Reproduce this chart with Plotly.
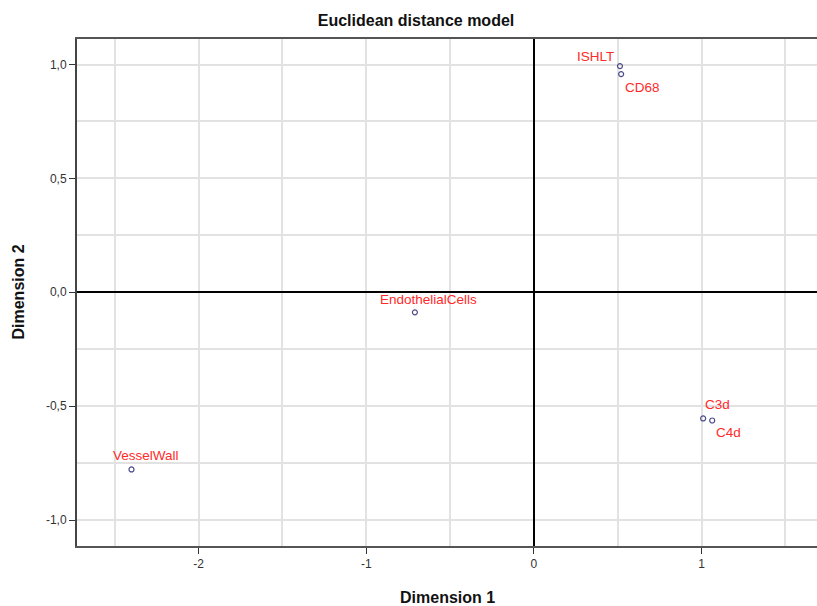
import plotly.graph_objects as go

labels = ["ISHLT", "CD68", "EndothelialCells", "VesselWall", "C3d", "C4d"]
dim1 = [0.513, 0.520, -0.710, -2.400, 1.009, 1.063]
dim2 = [0.993, 0.958, -0.088, -0.778, -0.554, -0.563]

x_tickvals = [-2, -1, 0, 1]
x_ticktext = ["-2", "-1", "0", "1"]
y_tickvals = [1.0, 0.5, 0.0, -0.5, -1.0]
y_ticktext = ["1,0", "0,5", "0,0", "-0,5", "-1,0"]

# label placement (anchor, xshift, yshift) per point
label_place = {
    "ISHLT": ("right", -4, 10),
    "CD68": ("left", 2, -13),
    "EndothelialCells": ("center", 14, 13),
    "VesselWall": ("center", 14, 14),
    "C3d": ("left", 0, 14),
    "C4d": ("left", 2, -12),
}

FONT = "Liberation Sans, Arial, sans-serif"

fig = go.Figure()
fig.add_trace(go.Scatter(
    x=dim1, y=dim2, mode="markers",
    marker=dict(symbol="circle-open", size=5, color="#4b4b8c", line=dict(width=1.2)),
    hoverinfo="text", text=labels, showlegend=False,
))

for lab, xv, yv in zip(labels, dim1, dim2):
    anc, xs, ys = label_place[lab]
    fig.add_annotation(x=xv, y=yv, text=lab, showarrow=False, xanchor=anc, yanchor="middle",
                       xshift=xs, yshift=ys,
                       font=dict(family=FONT, size=13.5, color="#ff2a2a"))

grid_col = "#e2e2e2"
fig.update_xaxes(
    range=[-2.725, 1.688], tickvals=x_tickvals, ticktext=x_ticktext, automargin=False,
    showgrid=True, gridcolor=grid_col, gridwidth=2,
    minor=dict(tick0=0, dtick=0.5, showgrid=True, gridcolor=grid_col, gridwidth=2, ticks=""),
    zeroline=True, zerolinecolor="#000000", zerolinewidth=1.5,
    showline=True, linecolor="#555555", linewidth=2, mirror=True,
    ticks="outside", ticklen=6, tickcolor="#333333", tickwidth=1,
    tickfont=dict(family=FONT, size=12, color="#333333"),
)
fig.update_yaxes(
    range=[-1.114, 1.112], tickvals=y_tickvals, ticktext=y_ticktext, automargin=False,
    showgrid=True, gridcolor=grid_col, gridwidth=2,
    minor=dict(tick0=0, dtick=0.25, showgrid=True, gridcolor=grid_col, gridwidth=2, ticks=""),
    zeroline=True, zerolinecolor="#000000", zerolinewidth=1.5,
    showline=True, linecolor="#444444", linewidth=2, mirror=False,
    ticks="outside", ticklen=6, tickcolor="#333333", tickwidth=1,
    tickfont=dict(family=FONT, size=12, color="#333333"),
)

fig.add_annotation(text="<b>Dimension 1</b>", xref="paper", yref="paper", x=0.5, y=0,
                   yshift=-51, xanchor="center", yanchor="middle", showarrow=False,
                   font=dict(family=FONT, size=16, color="#111111"))
fig.add_annotation(text="<b>Dimension 2</b>", xref="paper", yref="paper", x=0, y=0.5,
                   xshift=-59, xanchor="center", yanchor="middle", showarrow=False, textangle=-90,
                   font=dict(family=FONT, size=16, color="#111111"))

fig.update_layout(
    template="none",
    width=817, height=606,
    margin=dict(l=77, r=0, t=39, b=60, autoexpand=False),
    paper_bgcolor="white", plot_bgcolor="white",
    title=dict(text="<b>Euclidean distance model</b>", x=416/817, xref="container", xanchor="center",
               y=1 - 20/606, yanchor="middle",
               font=dict(family=FONT, size=16, color="#111111")),
)

fig.write_html("out.html", config={"displayModeBar": False},
               post_script="document.body.style.margin='0';document.body.style.overflow='hidden';")
